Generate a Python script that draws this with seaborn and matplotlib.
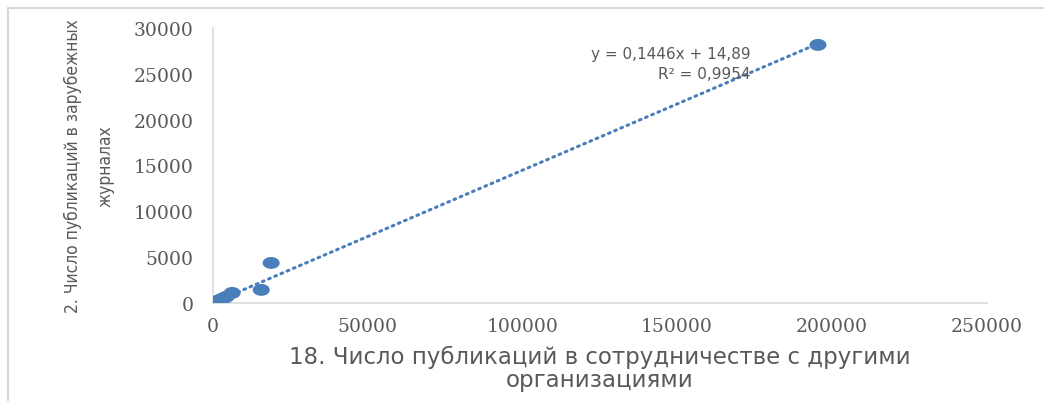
import numpy as np
import pandas as pd
import matplotlib
matplotlib.use("Agg")
import matplotlib.pyplot as plt
from matplotlib.path import Path
from matplotlib.lines import Line2D
import seaborn as sns

# Publications in collaboration with other organisations (x) vs. publications in foreign journals (y)
collab_pubs = [300, 1200, 2000, 3000, 4200, 6200, 15600, 18800, 195500]
foreign_pubs = [30, 150, 300, 450, 650, 1090, 1420, 4360, 28150]

slope = 0.1446
intercept = 14.89
r_squared = 0.9954

x_ticks = [0, 50000, 100000, 150000, 200000, 250000]
y_ticks = [0, 5000, 10000, 15000, 20000, 25000, 30000]

x_title = "18. Число публикаций в сотрудничестве с другими\nорганизациями"
y_title = "2. Число публикаций в зарубежных\nжурналах"

blue = "#4a7ebb"
grey_text = "#595959"
axis_grey = "#d9d9d9"

sns.set_theme(style="white")
plt.rcParams["font.family"] = ["DejaVu Sans"]

df = pd.DataFrame({"x": collab_pubs, "y": foreign_pubs})

# slightly flattened circle as the point marker
t = np.linspace(0, 2 * np.pi, 60)
ellipse = Path(np.column_stack([np.cos(t), 0.7 * np.sin(t)]), closed=True)

fig = plt.figure(figsize=(10.44, 4.02), dpi=100)
ax = fig.add_axes([0.204, 0.244, 0.741, 0.684])

sns.scatterplot(data=df, x="x", y="y", ax=ax, marker=ellipse, s=150,
                color=blue, edgecolor="none", linewidth=0, zorder=3)

# linear trend line
trend_x = np.array([0, max(collab_pubs)])
trend_y = slope * trend_x + intercept
ax.plot(trend_x, trend_y, color=blue, linewidth=2.2,
        linestyle=(0, (0.6, 1.6)), dash_capstyle="round", zorder=2)

ax.set_xlim(0, 250000)
ax.set_ylim(0, 30000)
ax.set_xticks(x_ticks)
ax.set_yticks(y_ticks)
ax.set_xticklabels([str(v) for v in x_ticks], family="DejaVu Serif",
                   fontsize=13.5, color=grey_text)
ax.set_yticklabels([str(v) for v in y_ticks], family="DejaVu Serif",
                   fontsize=13.5, color=grey_text)
ax.tick_params(axis="x", length=0, pad=10)
ax.tick_params(axis="y", length=0, pad=14)

for side in ["top", "right"]:
    ax.spines[side].set_visible(False)
for side in ["left", "bottom"]:
    ax.spines[side].set_color(axis_grey)
    ax.spines[side].set_linewidth(1.2)
ax.grid(False)

ax.set_xlabel(x_title, fontsize=16.5, color=grey_text, linespacing=1.0, labelpad=7)
ax.set_ylabel(y_title, fontsize=12.5, color=grey_text, linespacing=2.0, labelpad=14,
              family="DejaVu Sans", fontstretch="condensed")

eq = f"y = {slope:.4f}x + {intercept:.2f}".replace(".", ",")
r2 = f"R² = {r_squared:.4f}".replace(".", ",")
ax.text(0.695, 0.87, eq + "\n" + r2, transform=ax.transAxes, ha="right", va="center",
        multialignment="right", fontsize=11, color=grey_text, linespacing=1.45)

# outer chart frame
fig.add_artist(Line2D([0.0077, 1.0], [0.977, 0.977], transform=fig.transFigure,
                      color=axis_grey, linewidth=1.5))
fig.add_artist(Line2D([0.0077, 0.0077], [0.0, 0.977], transform=fig.transFigure,
                      color=axis_grey, linewidth=1.5))

fig.savefig("out.png", dpi=100, facecolor="white")
